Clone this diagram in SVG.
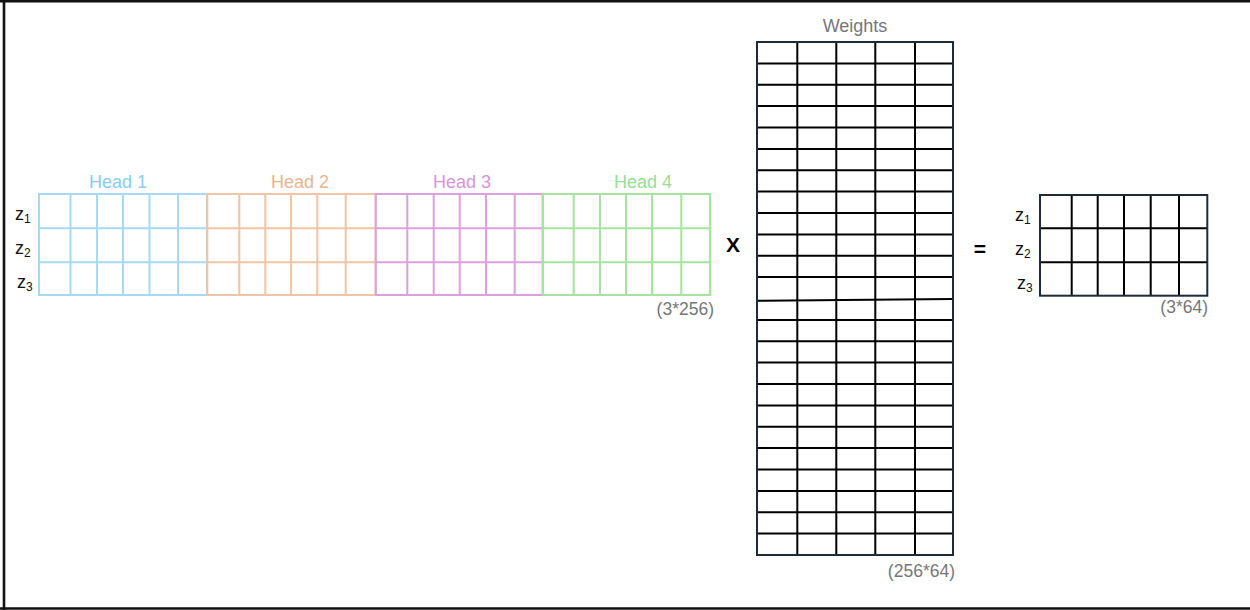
<svg xmlns="http://www.w3.org/2000/svg" width="1250" height="610" viewBox="0 0 1250 610">
<style>
text{font-family:"Liberation Sans",Arial,sans-serif}
.lbl{font-size:18px;text-anchor:middle}
.dim{font-size:17.5px;fill:#777}
.z{font-size:18px;fill:#111}
.sub{font-size:12px}
.g{fill:none;stroke-width:2}
.blue{stroke:#a6d9f3}
.peach{stroke:#f0c4a4}
.violet{stroke:#dca0dc}
.green{stroke:#a6e3a1}
.blk{stroke:#000;stroke-width:2;fill:none}
.nav{stroke:#1d2b3a;stroke-width:2;fill:none}
.op{font-size:21px;font-weight:bold;fill:#000;text-anchor:middle}
</style>
<rect width="1250" height="610" fill="#fff"/>
<path d="M0 1.2H1250M4 0V610M0 608.5H1250" stroke="#111" stroke-width="2.6" fill="none"/>

<g id="z-labels-left">
<text class="z" x="15" y="220">z<tspan class="sub" dy="3">1</tspan></text>
<text class="z" x="15" y="254">z<tspan class="sub" dy="3">2</tspan></text>
<text class="z" x="17" y="288">z<tspan class="sub" dy="3">3</tspan></text>
</g>

<g id="head1">
<text class="lbl" x="118" y="188" fill="#86cdef">Head 1</text>
<path class="g blue" d="M39 194H207V295H39ZM39 228.3H207M39 262.3H207M70.5 194V295M97 194V295M123 194V295M149.5 194V295M178 194V295"/>
</g>
<g id="head2">
<text class="lbl" x="300" y="188" fill="#e9b591">Head 2</text>
<path class="g peach" d="M207.3 194H375.7V295H207.3ZM207.3 228.3H375.7M207.3 262.3H375.7M239.3 194V295M265.3 194V295M291 194V295M317.3 194V295M345.7 194V295"/>
</g>
<g id="head3">
<text class="lbl" x="462" y="188" fill="#d795d6">Head 3</text>
<path class="g violet" d="M375.7 194H542.7V295H375.7ZM375.7 228.3H542.7M375.7 262.3H542.7M407.3 194V295M433.7 194V295M459.7 194V295M486 194V295M514.7 194V295"/>
</g>
<g id="head4">
<text class="lbl" x="643" y="188" fill="#98dd94">Head 4</text>
<path class="g green" d="M542.7 194H710V295H542.7ZM542.7 228.3H710M542.7 262.3H710M573.7 194V295M600 194V295M626 194V295M652 194V295M681.3 194V295"/>
</g>
<text class="dim" x="714" y="315" text-anchor="end">(3*256)</text>

<text class="op" x="733" y="252">X</text>

<g id="weights">
<text class="lbl" x="855" y="32" fill="#777">Weights</text>
<path class="blk" d="M797.3 42V555M836.3 42V555M875.3 42V555M915 42V555
M757 63.4H953M757 84.8H953M757 106.1H953M757 127.5H953M757 148.9H953M757 170.3H953M757 191.6H953M757 213H953M757 234.4H953M757 255.8H953M757 277.1H953M757 300.7L953 299M757 319.9H953M757 341.3H953M757 362.6H953M757 384H953M757 405.4H953M757 426.8H953M757 448.1H953M757 469.5H953M757 490.9H953M757 512.3H953M757 533.6H953"/>
<rect class="nav" x="757" y="42" width="196" height="513"/>
<text class="dim" x="955" y="577" text-anchor="end">(256*64)</text>
</g>

<text class="op" x="980" y="256">=</text>

<g id="result">
<text class="z" x="1015" y="221">z<tspan class="sub" dy="3">1</tspan></text>
<text class="z" x="1015" y="255">z<tspan class="sub" dy="3">2</tspan></text>
<text class="z" x="1017" y="289">z<tspan class="sub" dy="3">3</tspan></text>
<path class="blk" d="M1071.7 195V295.7M1097.7 195V295.7M1124 195V295.7M1150.7 195V295.7M1179 195V295.7M1040 228.3H1207.3M1040 262.3H1207.3"/>
<rect class="nav" x="1040" y="195" width="167.3" height="100.7"/>
<text class="dim" x="1208" y="313" text-anchor="end">(3*64)</text>
</g>
</svg>
